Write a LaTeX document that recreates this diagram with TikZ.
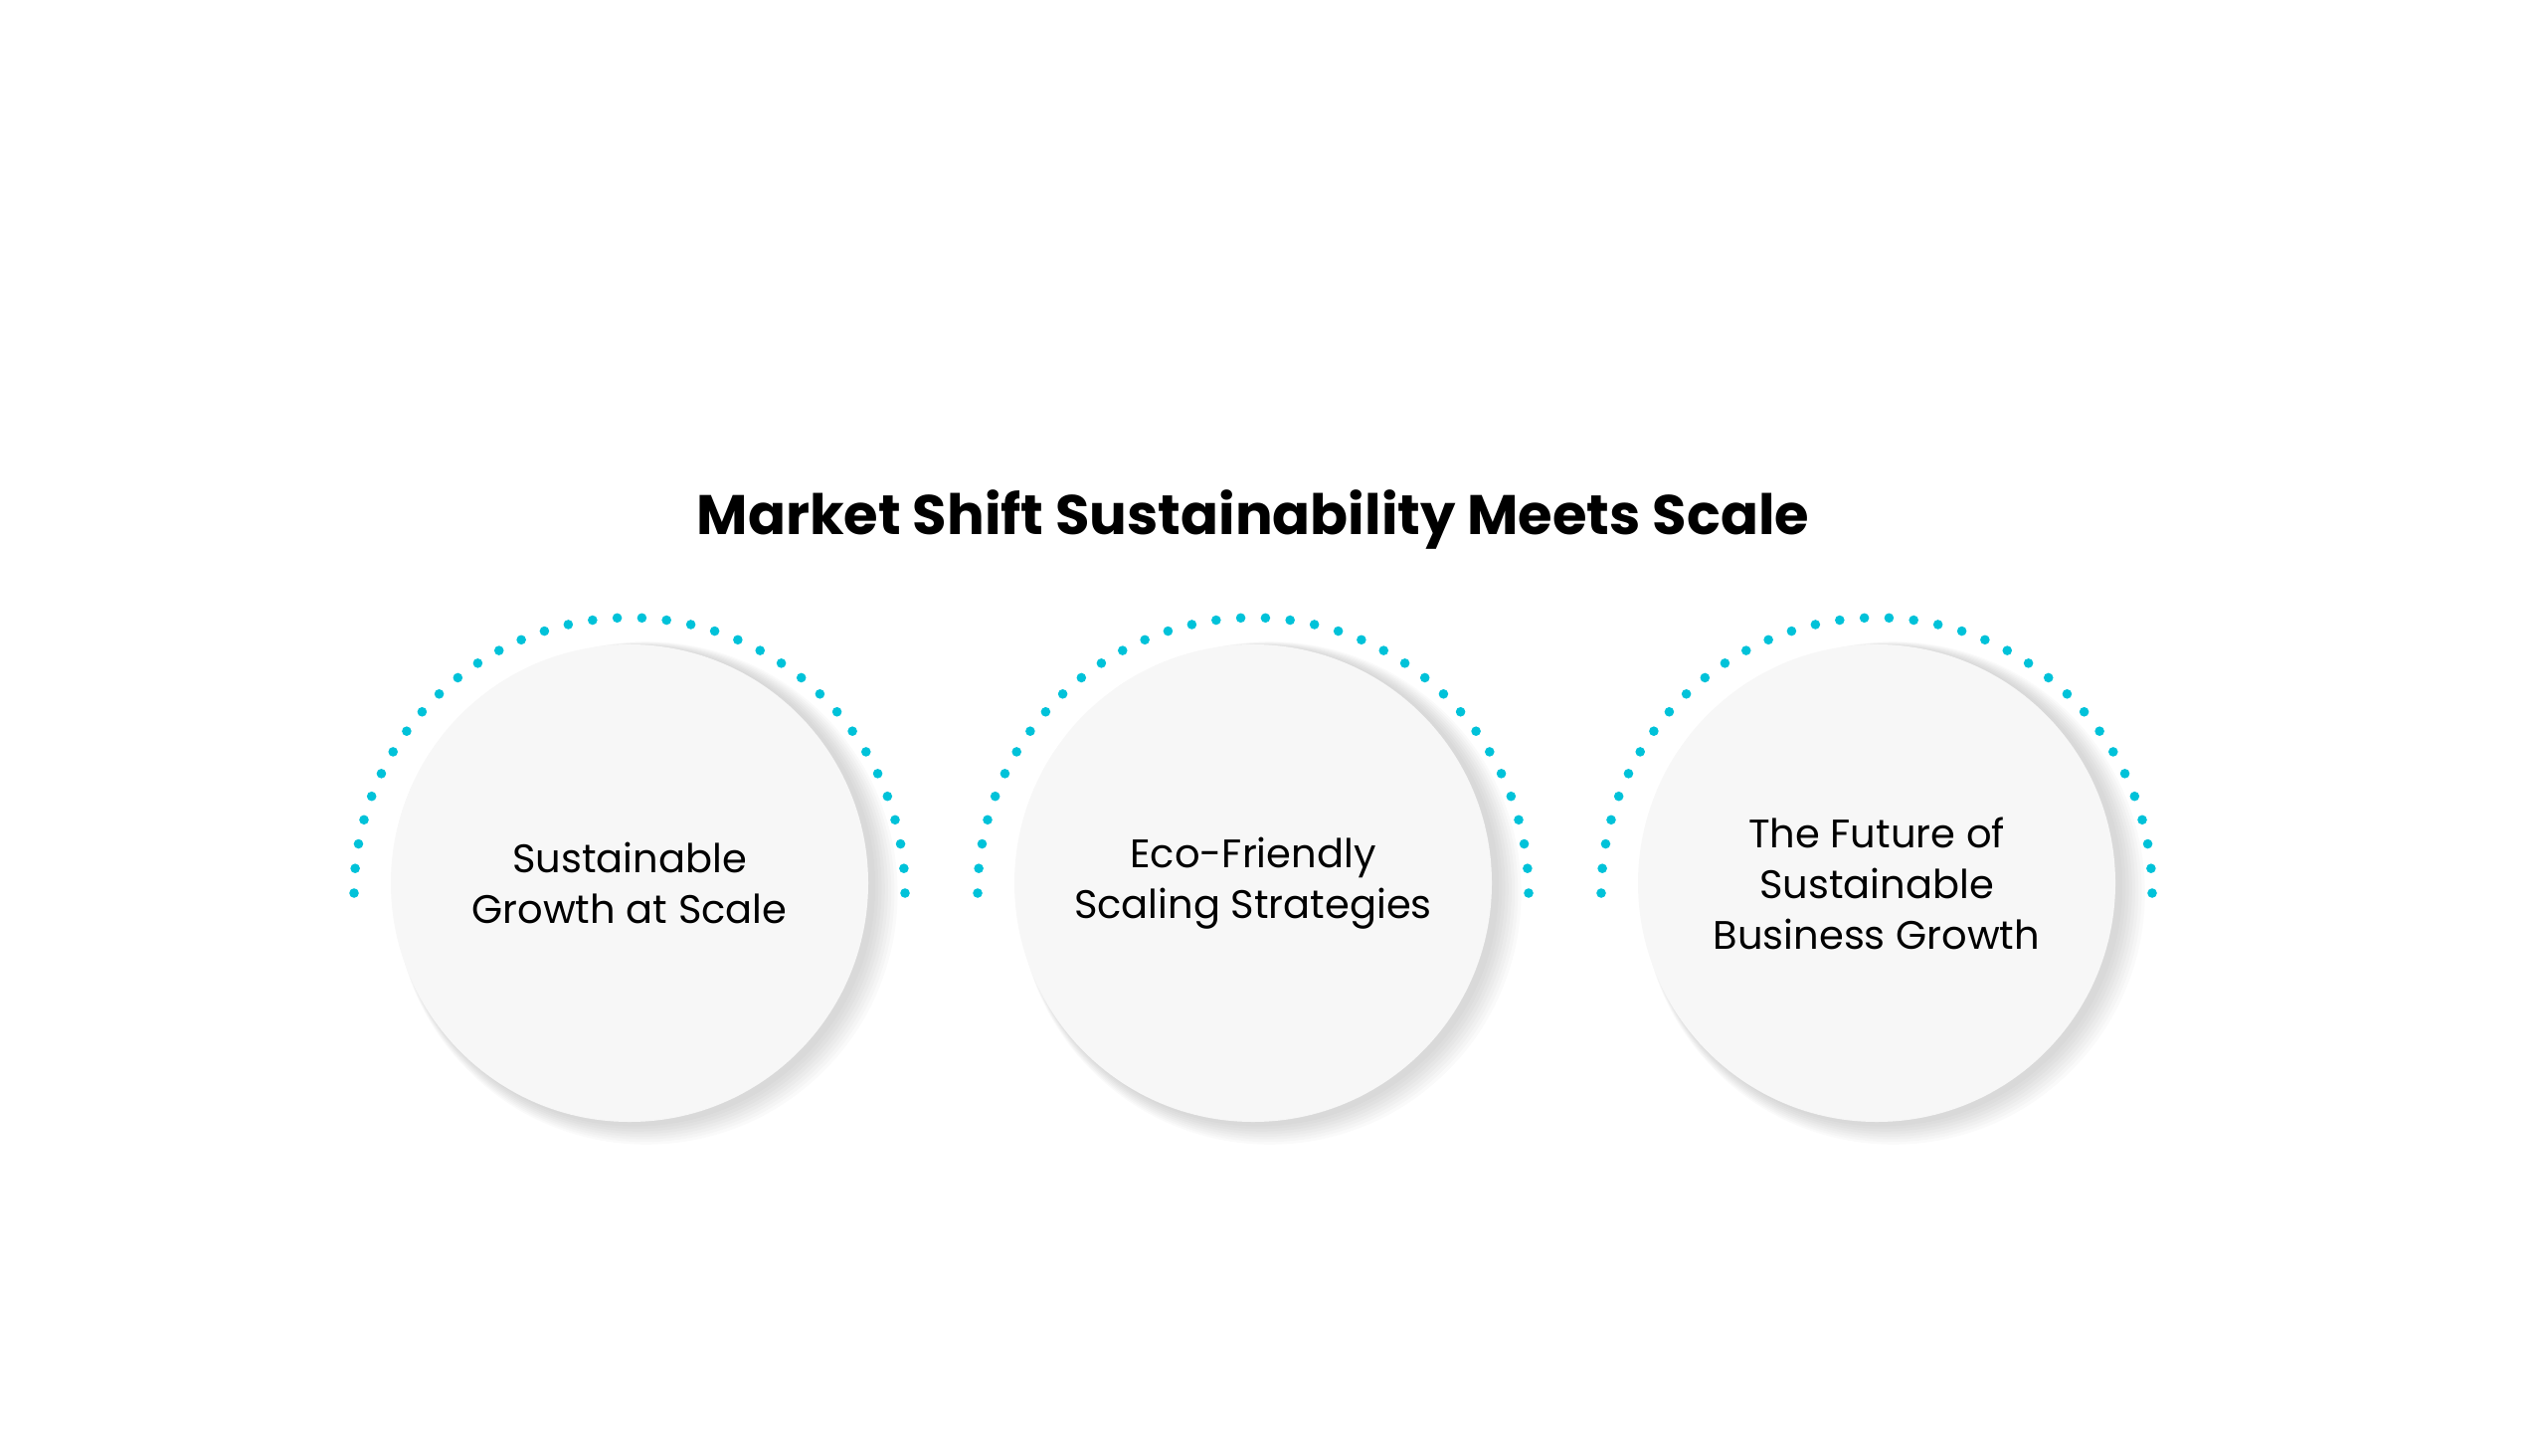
\documentclass[tikz,border=0pt]{standalone}
\usepackage{fontspec}
\setmainfont{Poppins}
\definecolor{dotc}{HTML}{00C2D9}
\definecolor{cfill}{HTML}{F7F7F7}
\begin{document}
\begin{tikzpicture}[x=1pt,y=-1pt,
  bubble/.style={circle,fill=cfill,minimum size=480pt,inner sep=0pt,align=center,font=\fontsize{40}{51}\selectfont},
  dotty/.style={fill=dotc}]
\useasboundingbox (0,0) rectangle (2560,1464);
\node[font=\fontsize{56}{60}\selectfont\bfseries] (title) at (1260,522) {Market Shift Sustainability Meets Scale};
\foreach \cx/\nm/\txt in {633/a/{Sustainable\\Growth at Scale},1260/b/{Eco-Friendly\\Scaling Strategies},1887/c/{The Future of\\Sustainable\\Business Growth}}{
  \foreach \a in {0,5.142857,...,180.1}{
    \fill[dotty] (\cx,898) ++(\a:277 and -277) ++(0,0) circle (4.8);
  }
  \foreach \k in {1,...,8}{
    \fill[black,opacity=0.018] (\cx+4+\k*1.6,888+2+\k*1.0) circle (240+\k*1.6);
  }
  \node[bubble] (\nm) at (\cx,888) {\txt};
}
\end{tikzpicture}
\end{document}
